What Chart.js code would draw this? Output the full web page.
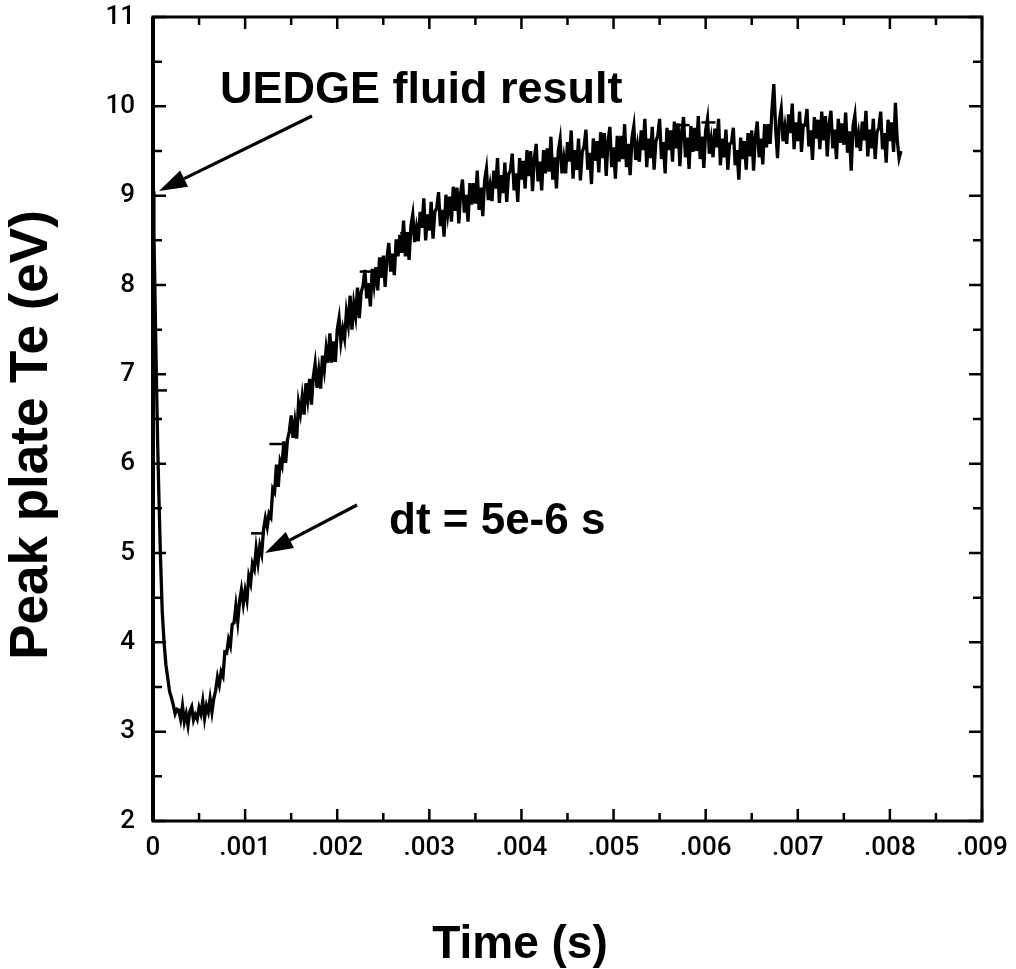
<!DOCTYPE html>
<html>
<head>
<meta charset="utf-8">
<script src="https://cdn.jsdelivr.net/npm/chart.js@4.4.1/dist/chart.umd.min.js"></script>
<style>
  html, body { margin: 0; padding: 0; background: #fff; }
  canvas { display: block; }
</style>
</head>
<body>
<canvas id="teChart" width="1016" height="969"></canvas>
<script>
// sample times in microseconds
const timesUs = [
    0, 10, 20, 30, 40, 50, 60, 70, 80, 100, 120, 140, 160, 180, 200, 220, 240, 260,
    280, 300, 320, 340, 360, 380, 400, 420, 440, 460,
    480, 500, 520, 540, 560, 580, 600, 620, 640, 660,
    680, 700, 720, 740, 760, 780, 800, 820, 840, 860,
    880, 900, 920, 940, 960, 980, 1000, 1020, 1040, 1060,
    1080, 1100, 1120, 1140, 1160, 1180, 1200, 1220, 1240, 1260,
    1280, 1300, 1320, 1340, 1360, 1380, 1400, 1420, 1440, 1460,
    1480, 1500, 1520, 1540, 1560, 1580, 1600, 1620, 1640, 1660,
    1680, 1700, 1720, 1740, 1760, 1780, 1800, 1820, 1840, 1860,
    1880, 1900, 1920, 1940, 1960, 1980, 2000, 2020, 2040, 2060,
    2080, 2100, 2120, 2140, 2160, 2180, 2200, 2220, 2240, 2260,
    2280, 2300, 2320, 2340, 2360, 2380, 2400, 2420, 2440, 2460,
    2480, 2500, 2520, 2540, 2560, 2580, 2600, 2620, 2640, 2660,
    2680, 2700, 2720, 2740, 2760, 2780, 2800, 2820, 2840, 2860,
    2880, 2900, 2920, 2940, 2960, 2980, 3000, 3020, 3040, 3060,
    3080, 3100, 3120, 3140, 3160, 3180, 3200, 3220, 3240, 3260,
    3280, 3300, 3320, 3340, 3360, 3380, 3400, 3420, 3440, 3460,
    3480, 3500, 3520, 3540, 3560, 3580, 3600, 3620, 3640, 3660,
    3680, 3700, 3720, 3740, 3760, 3780, 3800, 3820, 3840, 3860,
    3880, 3900, 3920, 3940, 3960, 3980, 4000, 4020, 4040, 4060,
    4080, 4100, 4120, 4140, 4160, 4180, 4200, 4220, 4240, 4260,
    4280, 4300, 4320, 4340, 4360, 4380, 4400, 4420, 4440, 4460,
    4480, 4500, 4520, 4540, 4560, 4580, 4600, 4620, 4640, 4660,
    4680, 4700, 4720, 4740, 4760, 4780, 4800, 4820, 4840, 4860,
    4880, 4900, 4920, 4940, 4960, 4980, 5000, 5020, 5040, 5060,
    5080, 5100, 5120, 5140, 5160, 5180, 5200, 5220, 5240, 5260,
    5280, 5300, 5320, 5340, 5360, 5380, 5400, 5420, 5440, 5460,
    5480, 5500, 5520, 5540, 5560, 5580, 5600, 5620, 5640, 5660,
    5680, 5700, 5720, 5740, 5760, 5780, 5800, 5820, 5840, 5860,
    5880, 5900, 5920, 5940, 5960, 5980, 6000, 6020, 6040, 6060,
    6080, 6100, 6120, 6140, 6160, 6180, 6200, 6220, 6240, 6260,
    6280, 6300, 6320, 6340, 6360, 6380, 6400, 6420, 6440, 6460,
    6480, 6500, 6520, 6540, 6560, 6580, 6600, 6620, 6640, 6660,
    6680, 6700, 6720, 6740, 6760, 6780, 6800, 6820, 6840, 6860,
    6880, 6900, 6920, 6940, 6960, 6980, 7000, 7020, 7040, 7060,
    7080, 7100, 7120, 7140, 7160, 7180, 7200, 7220, 7240, 7260,
    7280, 7300, 7320, 7340, 7360, 7380, 7400, 7420, 7440, 7460,
    7480, 7500, 7520, 7540, 7560, 7580, 7600, 7620, 7640, 7660,
    7680, 7700, 7720, 7740, 7760, 7780, 7800, 7820, 7840, 7860,
    7880, 7900, 7920, 7940, 7960, 7980, 8000, 8020, 8040, 8060,
    8080, 8100, 8120
];

// peak plate Te (eV)
const teValues = [
    9.05, 8.55, 8.0, 7.35, 6.8, 6.25, 5.8, 5.4, 5.0, 4.35, 4.0, 3.75, 3.6, 3.45, 3.38, 3.3, 3.2, 3.25,
    3.24, 3.14, 3.29, 3.11, 3.2, 3.07, 3.23, 3.28, 3.13, 3.19,
    3.14, 3.27, 3.2, 3.34, 3.15, 3.29, 3.22, 3.37, 3.22, 3.37,
    3.46, 3.61, 3.52, 3.67, 3.62, 3.89, 3.88, 4.03, 3.96, 4.2,
    4.22, 4.41, 4.23, 4.46, 4.59, 4.43, 4.58, 4.47, 4.74, 4.66,
    4.88, 4.82, 5.05, 4.89, 5.08, 4.99, 5.26, 5.39, 5.29, 5.44,
    5.4, 5.72, 5.68, 5.99, 5.74, 6.03, 5.97, 6.25, 6.01, 6.27,
    6.36, 6.54, 6.29, 6.47, 6.28, 6.68, 6.56, 6.75, 6.55, 6.9,
    6.72, 6.95, 6.66, 6.97, 7.12, 6.85, 7.04, 6.84, 7.21, 7.05,
    7.29, 7.13, 7.46, 7.13, 7.37, 7.14, 7.5, 7.63, 7.36, 7.51,
    7.4, 7.7, 7.56, 7.88, 7.5, 7.79, 7.65, 7.97, 7.63, 7.92,
    7.99, 8.17, 7.85, 8.02, 7.76, 8.18, 8.0, 8.2, 7.94, 8.31,
    8.08, 8.33, 7.98, 8.31, 8.47, 8.15, 8.35, 8.11, 8.51, 8.32,
    8.56, 8.36, 8.72, 8.32, 8.57, 8.28, 8.66, 8.79, 8.48, 8.64,
    8.49, 8.82, 8.64, 8.97, 8.5, 8.79, 8.61, 8.93, 8.52, 8.82,
    8.86, 9.04, 8.66, 8.84, 8.54, 9.01, 8.8, 8.99, 8.71, 9.1,
    8.83, 9.09, 8.69, 9.03, 9.18, 8.81, 9.01, 8.71, 9.14, 8.9,
    9.14, 8.91, 9.28, 8.84, 9.09, 8.77, 9.17, 9.3, 8.95, 9.11,
    8.94, 9.28, 9.08, 9.42, 8.92, 9.23, 9.03, 9.37, 8.93, 9.24,
    9.28, 9.47, 9.06, 9.25, 8.93, 9.42, 9.18, 9.39, 9.08, 9.51,
    9.22, 9.5, 9.05, 9.42, 9.58, 9.16, 9.38, 9.06, 9.51, 9.25,
    9.53, 9.27, 9.66, 9.18, 9.43, 9.08, 9.5, 9.63, 9.25, 9.42,
    9.25, 9.6, 9.38, 9.73, 9.19, 9.51, 9.29, 9.64, 9.17, 9.49,
    9.55, 9.74, 9.29, 9.48, 9.13, 9.64, 9.39, 9.61, 9.26, 9.71,
    9.42, 9.7, 9.22, 9.61, 9.77, 9.32, 9.54, 9.19, 9.67, 9.38,
    9.67, 9.41, 9.8, 9.32, 9.58, 9.23, 9.65, 9.78, 9.4, 9.56,
    9.38, 9.73, 9.51, 9.86, 9.32, 9.64, 9.42, 9.77, 9.29, 9.61,
    9.67, 9.86, 9.41, 9.6, 9.25, 9.76, 9.51, 9.73, 9.38, 9.83,
    9.53, 9.81, 9.33, 9.72, 9.88, 9.43, 9.65, 9.3, 9.78, 9.49,
    9.76, 9.5, 9.89, 9.41, 9.66, 9.31, 9.73, 9.86, 9.47, 9.63,
    9.43, 9.75, 9.54, 9.86, 9.34, 9.64, 9.43, 9.74, 9.29, 9.58,
    9.59, 9.76, 9.34, 9.51, 9.18, 9.65, 9.41, 9.61, 9.29, 9.7,
    9.44, 9.73, 9.28, 9.66, 9.83, 9.43, 9.64, 9.35, 9.8, 9.54,
    9.8, 9.58, 9.97, 10.25, 9.75, 9.42, 9.84, 9.97, 9.61, 9.77,
    9.58, 9.91, 9.7, 10.03, 9.52, 9.82, 9.61, 9.94, 9.49, 9.79,
    9.79, 9.97, 9.55, 9.73, 9.4, 9.88, 9.64, 9.85, 9.52, 9.94,
    9.62, 9.89, 9.44, 9.8, 9.95, 9.53, 9.74, 9.41, 9.86, 9.59,
    9.81, 9.57, 9.93, 9.48, 9.72, 9.28, 9.78, 9.9, 9.54, 9.69,
    9.5, 9.83, 9.62, 9.95, 9.44, 9.74, 9.53, 9.86, 9.41, 9.71,
    9.76, 9.94, 9.52, 9.7, 9.37, 9.85, 9.61, 9.82, 9.49, 10.04,
    9.62, 9.42, 9.5
];

// small dash marks sitting on the curve
const markTimes = [0.000076, 0.00114, 0.00134, 0.00232, 0.00276, 0.00575, 0.00603];
const markValues = [6.82, 5.22, 6.22, 8.15, 8.58, 9.79, 9.82];

const xTickValues = [0, 0.001, 0.002, 0.003, 0.004, 0.005, 0.006, 0.007, 0.008, 0.009];
const xTickLabels = ['0', '.001', '.002', '.003', '.004', '.005', '.006', '.007', '.008', '.009'];
const xMinorTicks = [0.0005, 0.0015, 0.0025, 0.0035, 0.0045, 0.0055, 0.0065, 0.0075, 0.0085];
const yTickValues = [2, 3, 4, 5, 6, 7, 8, 9, 10, 11];
const yMinorTicks = [2.5, 3.5, 4.5, 5.5, 6.5, 7.5, 8.5, 9.5, 10.5];

const curve = timesUs.map((t, i) => ({ x: t * 1e-6, y: teValues[i] }));
const marks = markTimes.map((t, i) => ({ x: t, y: markValues[i] }));

const tickFont = { family: "Roboto, 'Liberation Sans', Arial, sans-serif", size: 26, weight: '500' };
const sansBold = "'Liberation Sans', Arial, sans-serif";

function drawArrow(ctx, x1, y1, x2, y2) {
    const ang = Math.atan2(y2 - y1, x2 - x1);
    const len = 28, half = 9;
    const bx = x2 - len * Math.cos(ang), by = y2 - len * Math.sin(ang);
    ctx.beginPath();
    ctx.moveTo(x1, y1);
    ctx.lineTo(bx, by);
    ctx.lineWidth = 3.2;
    ctx.stroke();
    ctx.beginPath();
    ctx.moveTo(x2, y2);
    ctx.lineTo(bx + half * Math.sin(ang), by - half * Math.cos(ang));
    ctx.lineTo(bx - half * Math.sin(ang), by + half * Math.cos(ang));
    ctx.closePath();
    ctx.fill();
}

// frame, inward ticks, labels and arrows
const framePlugin = {
    id: 'frame',
    afterDraw(chart) {
        const ctx = chart.ctx;
        const a = chart.chartArea;
        const xs = chart.scales.x, ys = chart.scales.y;
        ctx.save();
        ctx.strokeStyle = '#000';
        ctx.fillStyle = '#000';
        ctx.lineWidth = 3;
        ctx.strokeRect(a.left, a.top, a.right - a.left, a.bottom - a.top);
        ctx.lineWidth = 4;
        ctx.beginPath();
        ctx.moveTo(a.left, a.top); ctx.lineTo(a.left, a.bottom);
        ctx.stroke();

        ctx.lineWidth = 2.5;
        const xt = (v, len) => {
            const px = xs.getPixelForValue(v);
            ctx.beginPath();
            ctx.moveTo(px, a.bottom); ctx.lineTo(px, a.bottom - len);
            ctx.moveTo(px, a.top); ctx.lineTo(px, a.top + len);
            ctx.stroke();
        };
        const yt = (v, len) => {
            const py = ys.getPixelForValue(v);
            ctx.beginPath();
            ctx.moveTo(a.left, py); ctx.lineTo(a.left + len, py);
            ctx.moveTo(a.right, py); ctx.lineTo(a.right - len, py);
            ctx.stroke();
        };
        xTickValues.forEach(v => xt(v, 12));
        xMinorTicks.forEach(v => xt(v, 8));
        yTickValues.forEach(v => yt(v, 13));
        yMinorTicks.forEach(v => yt(v, 9));

        ctx.textBaseline = 'alphabetic';
        ctx.textAlign = 'left';
        ctx.font = 'bold 45px ' + sansBold;
        ctx.fillText('UEDGE fluid result', 220, 103);
        ctx.font = 'bold 44px ' + sansBold;
        ctx.fillText('dt = 5e-6 s', 389, 534);
        drawArrow(ctx, 312, 116, 159, 191);
        drawArrow(ctx, 357, 505, 265, 553);

        ctx.textAlign = 'center';
        ctx.font = 'bold 46px ' + sansBold;
        ctx.fillText('Time (s)', 520, 958);
        ctx.translate(47, 435);
        ctx.rotate(-Math.PI / 2);
        ctx.font = 'bold 53px ' + sansBold;
        ctx.fillText('Peak plate Te (eV)', 0, 0);
        ctx.restore();
    }
};

new Chart(document.getElementById('teChart'), {
    type: 'line',
    data: {
        datasets: [
            {
                data: curve,
                borderColor: '#000',
                borderWidth: 3.3,
                pointRadius: 0,
                tension: 0,
                fill: false
            },
            {
                type: 'scatter',
                data: marks,
                pointStyle: 'line',
                pointRadius: 7,
                borderColor: '#000',
                borderWidth: 2.5
            }
        ]
    },
    options: {
        responsive: false,
        animation: false,
        layout: { padding: { top: 17, right: 34, left: 0, bottom: 0 } },
        plugins: { legend: { display: false }, tooltip: { enabled: false } },
        scales: {
            x: {
                type: 'linear',
                min: 0,
                max: 0.009,
                afterBuildTicks: s => { s.ticks = xTickValues.map(v => ({ value: v })); },
                afterFit: s => { s.height = 148; s.paddingLeft = 0; s.paddingRight = 0; },
                ticks: {
                    color: '#000',
                    font: tickFont,
                    padding: 12,
                    maxRotation: 0,
                    autoSkip: false,
                    callback: (v, i) => xTickLabels[i]
                },
                grid: { display: false, drawTicks: false },
                border: { display: false }
            },
            y: {
                min: 2,
                max: 11,
                afterBuildTicks: s => { s.ticks = yTickValues.map(v => ({ value: v })); },
                afterFit: s => { s.width = 153; s.paddingTop = 0; s.paddingBottom = 0; },
                ticks: {
                    color: '#000',
                    font: tickFont,
                    padding: 18,
                    autoSkip: false,
                    callback: v => String(v)
                },
                grid: { display: false, drawTicks: false },
                border: { display: false }
            }
        }
    },
    plugins: [framePlugin]
});
</script>
</body>
</html>
